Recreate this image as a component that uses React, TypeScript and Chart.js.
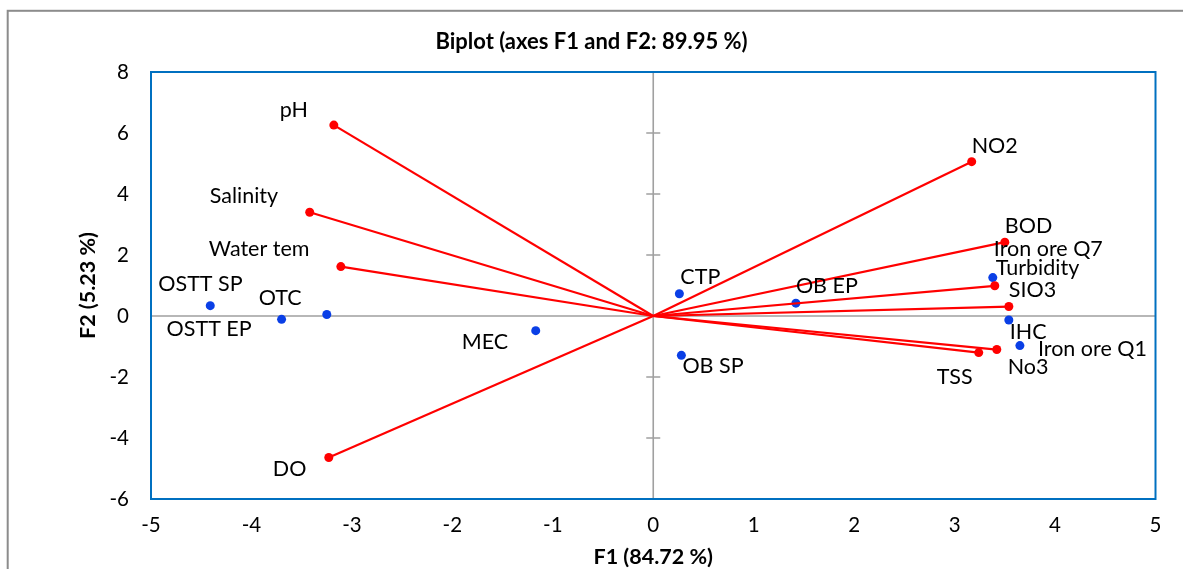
import React, { useEffect, useRef } from 'react';
import { Chart, registerables } from 'chart.js';

Chart.register(...registerables);

// ---- Data ----
const variableNames = ['pH', 'Salinity', 'Water tem', 'DO', 'NO2', 'BOD', 'Turbidity', 'SIO3', 'No3', 'TSS'];
const variableF1 = [-3.18, -3.42, -3.11, -3.23, 3.17, 3.50, 3.40, 3.54, 3.42, 3.24];
const variableF2 = [6.26, 3.40, 1.62, -4.64, 5.06, 2.42, 0.99, 0.31, -1.10, -1.20];

const observationNames = ['OSTT SP', 'OSTT EP', 'OTC', 'MEC', 'CTP', 'OB EP', 'OB SP', 'Iron ore Q7', 'IHC', 'Iron ore Q1'];
const observationF1 = [-4.41, -3.70, -3.25, -1.17, 0.26, 1.42, 0.28, 3.38, 3.54, 3.65];
const observationF2 = [0.34, -0.11, 0.05, -0.48, 0.73, 0.42, -1.29, 1.26, -0.13, -0.97];

const xTickValues = [-5, -4, -3, -2, -1, 0, 1, 2, 3, 4, 5];
const yTickValues = [-6, -4, -2, 0, 2, 4, 6, 8];

const titleText = 'Biplot (axes F1 and F2: 89.95 %)';
const xAxisTitle = 'F1 (84.72 %)';
const yAxisTitle = 'F2 (5.23 %)';

// ---- Label placement (pixel offsets from each point: text left edge, text middle) ----
const variableLabelOffsets: [number, number][] = [
  [-54, -15], [-100, -16], [-132, -18], [-56, 12], [0, -16],
  [0, -16], [1, -18], [0, -16], [11, 18], [-42, 24],
];
const observationLabelOffsets: [number, number][] = [
  [-52, -22], [-115, 10], [-68, -16], [-74, 11], [1, -17],
  [0, -17], [1, 11], [1, -29], [1, 12], [18, 3],
];

const FONT = 'Lato, "Open Sans", sans-serif';
const RED = '#FF0000';
const BLUE = '#0A3FE6';
const FRAME_BLUE = '#0070C0';
const ZERO_GRAY = '#A0A0A0';

const decorPlugin = {
  id: 'decor',
  beforeDatasetsDraw(chart: any) {
    const { ctx, chartArea: a, scales } = chart;
    const x = scales.x, y = scales.y;
    const x0 = x.getPixelForValue(0);
    const y0 = y.getPixelForValue(0);
    ctx.save();
    ctx.strokeStyle = ZERO_GRAY;
    ctx.lineWidth = 1.6;
    ctx.beginPath();
    ctx.moveTo(a.left, y0);
    ctx.lineTo(a.right, y0);
    ctx.moveTo(x0, a.top);
    ctx.lineTo(x0, a.bottom);
    for (const v of yTickValues) {
      const py = y.getPixelForValue(v);
      ctx.moveTo(x0 - 7, py);
      ctx.lineTo(x0 + 7, py);
    }
    ctx.stroke();
    ctx.restore();
  },
  afterDatasetsDraw(chart: any) {
    const { ctx, scales } = chart;
    const x = scales.x, y = scales.y;
    ctx.save();
    ctx.fillStyle = '#000';
    ctx.font = `21.5px ${FONT}`;
    ctx.textAlign = 'left';
    ctx.textBaseline = 'middle';
    variableNames.forEach((n, i) => {
      const px = x.getPixelForValue(variableF1[i]);
      const py = y.getPixelForValue(variableF2[i]);
      const [dx, dy] = variableLabelOffsets[i];
      ctx.fillText(n, px + dx, py + dy);
    });
    observationNames.forEach((n, i) => {
      const px = x.getPixelForValue(observationF1[i]);
      const py = y.getPixelForValue(observationF2[i]);
      const [dx, dy] = observationLabelOffsets[i];
      ctx.fillText(n, px + dx, py + dy);
    });
    ctx.restore();
  },
  afterDraw(chart: any) {
    const { ctx, chartArea: a, width } = chart;
    ctx.save();
    // plot frame
    ctx.strokeStyle = FRAME_BLUE;
    ctx.lineWidth = 2;
    ctx.strokeRect(a.left, a.top, a.right - a.left, a.bottom - a.top);
    // outer chart border
    ctx.strokeStyle = '#8C8C8C';
    ctx.lineWidth = 2;
    ctx.strokeRect(7.7, 10.8, 3000, 3000);
    // titles
    ctx.fillStyle = '#000';
    ctx.textAlign = 'center';
    ctx.textBaseline = 'middle';
    ctx.font = `bold 22px ${FONT}`;
    ctx.fillText(titleText, width / 2, 42);
    ctx.font = `bold 21.5px ${FONT}`;
    ctx.fillText(xAxisTitle, (a.left + a.right) / 2, 557);
    ctx.translate(88, (a.top + a.bottom) / 2);
    ctx.rotate(-Math.PI / 2);
    ctx.fillText(yAxisTitle, 0, 0);
    ctx.restore();
  },
};

export default function App() {
  const canvasRef = useRef<HTMLCanvasElement | null>(null);

  useEffect(() => {
    const canvas = canvasRef.current;
    if (!canvas) return;

    const variableDatasets = variableNames.map((n, i) => ({
      label: n,
      data: [
        { x: 0, y: 0 },
        { x: variableF1[i], y: variableF2[i] },
      ],
      showLine: true,
      borderColor: RED,
      backgroundColor: RED,
      borderWidth: 2.2,
      pointRadius: [0, 4.5],
      pointBorderWidth: 0,
      pointBackgroundColor: RED,
    }));

    const observationDataset = {
      label: 'Observations',
      data: observationF1.map((v, i) => ({ x: v, y: observationF2[i] })),
      showLine: false,
      pointRadius: 4.5,
      pointBorderWidth: 0,
      pointBackgroundColor: BLUE,
      backgroundColor: BLUE,
      borderColor: BLUE,
    };

    const chart = new Chart(canvas, {
      type: 'scatter',
      data: { datasets: [...variableDatasets, observationDataset] as any },
      options: {
        responsive: false,
        animation: false,
        layout: { padding: { top: 72, right: 27.5, left: 0, bottom: 0 } },
        plugins: {
          legend: { display: false },
          title: { display: false },
          tooltip: { enabled: false },
        },
        scales: {
          x: {
            type: 'linear',
            min: -5,
            max: 5,
            afterBuildTicks: (s: any) => {
              s.ticks = xTickValues.map((v) => ({ value: v }));
            },
            afterFit: (s: any) => {
              s.height = 70;
            },
            grid: { display: false, drawTicks: false },
            border: { display: false },
            ticks: {
              color: '#000',
              padding: 14,
              font: { family: FONT, size: 20.5 },
              maxRotation: 0,
              autoSkip: false,
            },
          },
          y: {
            type: 'linear',
            min: -6,
            max: 8,
            afterBuildTicks: (s: any) => {
              s.ticks = yTickValues.map((v) => ({ value: v }));
            },
            afterFit: (s: any) => {
              s.width = 151;
            },
            grid: { display: false, drawTicks: false },
            border: { display: false },
            ticks: {
              color: '#000',
              padding: 22,
              font: { family: FONT, size: 20.5 },
              autoSkip: false,
            },
          },
        },
      },
      plugins: [decorPlugin],
    });

    return () => chart.destroy();
  }, []);

  return (
    <div style={{ position: 'fixed', left: 0, top: 0, width: 1183, height: 569, background: '#fff' }}>
      <canvas ref={canvasRef} width={1183} height={569} style={{ display: 'block' }} />
    </div>
  );
}
